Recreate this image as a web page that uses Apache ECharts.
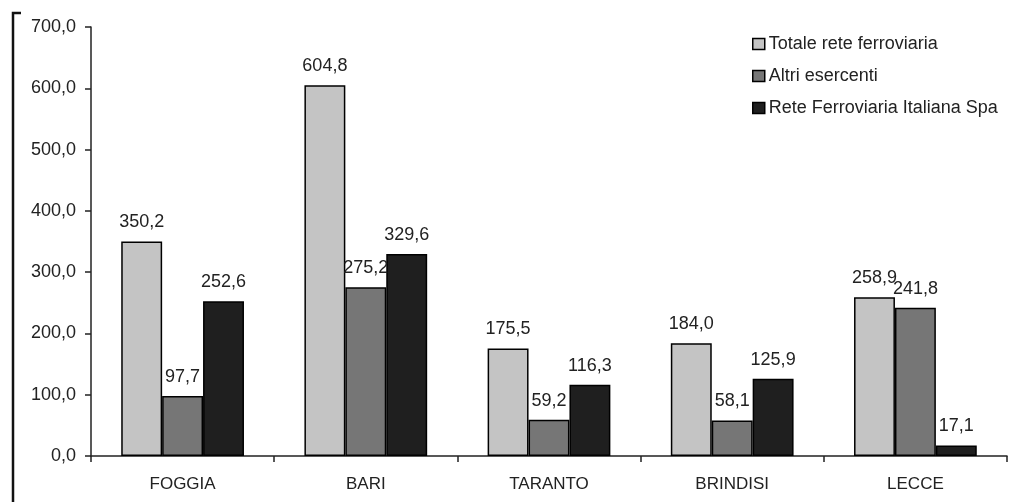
<!DOCTYPE html>
<html>
<head>
<meta charset="utf-8">
<script src="https://cdn.jsdelivr.net/npm/echarts@6/dist/echarts.min.js"></script>
<style>html,body{margin:0;padding:0;background:#fff;}#c{width:1026px;height:502px;}</style>
</head>
<body>
<div id="c"></div>
<script>
const categories = ['FOGGIA', 'BARI', 'TARANTO', 'BRINDISI', 'LECCE'];
const seriesNames = ['Totale rete ferroviaria', 'Altri esercenti', 'Rete Ferroviaria Italiana Spa'];
const totale = [350.2, 604.8, 175.5, 184.0, 258.9];
const altri = [97.7, 275.2, 59.2, 58.1, 241.8];
const rfi = [252.6, 329.6, 116.3, 125.9, 17.1];
const colors = ['#c4c4c4', '#767676', '#1f1f1f'];

const fmt = v => v.toFixed(1).replace('.', ',');
const font = 'Liberation Sans, Arial, sans-serif';

const chart = echarts.init(document.getElementById('c'), null, {renderer: 'canvas'});
const mk = (name, data, color) => ({
  name: name,
  type: 'bar',
  data: data,
  barGap: '0%',
  barCategoryGap: '33%',
  itemStyle: {color: color, borderColor: '#000', borderWidth: 1.5},
  label: {show: true, position: 'top', distance: 10, color: '#222', fontSize: 18, fontFamily: font,
          formatter: p => fmt(p.value)}
});
chart.setOption({
  animation: false,
  backgroundColor: '#fff',
  grid: {left: 91, right: 19, top: 27, bottom: 46, containLabel: false},
  legend: {
    orient: 'vertical', left: 747, top: 30,
    itemWidth: 12, itemHeight: 11, itemGap: 14,
    icon: 'rect',
    textStyle: {fontSize: 18, color: '#222', fontFamily: font, padding: [0, 0, 0, -1]},
    itemStyle: {borderColor: '#000', borderWidth: 1.5}
  },
  xAxis: {
    type: 'category', data: categories,
    axisLine: {lineStyle: {color: '#222', width: 1.5}},
    axisTick: {show: true, length: 6, lineStyle: {color: '#222', width: 1.5}},
    axisLabel: {fontSize: 17, color: '#222', fontFamily: font, margin: 20}
  },
  yAxis: {
    type: 'value', min: 0, max: 700, interval: 100,
    axisLine: {show: true, lineStyle: {color: '#222', width: 1.5}},
    axisTick: {show: true, length: 6, lineStyle: {color: '#222', width: 1.5}},
    splitLine: {show: false},
    axisLabel: {fontSize: 18, color: '#222', fontFamily: font, margin: 15, formatter: v => fmt(v)}
  },
  graphic: [{
    type: 'polyline',
    shape: {points: [[21, 13], [13, 13], [13, 502]]},
    style: {stroke: '#111', lineWidth: 2.5, fill: null}
  }],
  series: [mk(seriesNames[0], totale, colors[0]), mk(seriesNames[1], altri, colors[1]), mk(seriesNames[2], rfi, colors[2])]
});
</script>
</body>
</html>
